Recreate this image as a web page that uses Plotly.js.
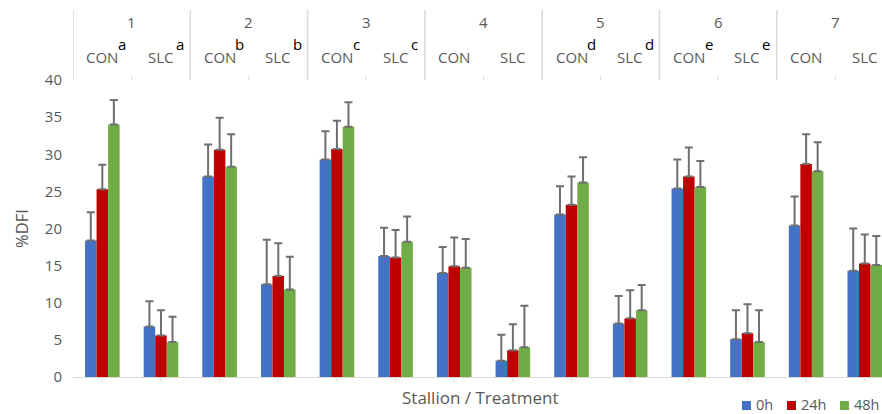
<!DOCTYPE html>
<html>
<head>
<meta charset="utf-8">
<script src="https://cdn.plot.ly/plotly-3.0.1.min.js"></script>
<style>html,body{margin:0;padding:0;background:#fff;}#chart{width:882px;height:414px;}</style>
</head>
<body>
<div id="chart"></div>
<script>
// Data
var stallions = ['1', '2', '3', '4', '5', '6', '7'];
var treatments = ['CON', 'SLC'];
var letters = ['a', 'a', 'b', 'b', 'c', 'c', '', '', 'd', 'd', 'e', 'e', '', ''];
var categories = ['1 CON', '1 SLC', '2 CON', '2 SLC', '3 CON', '3 SLC', '4 CON', '4 SLC', '5 CON', '5 SLC', '6 CON', '6 SLC', '7 CON', '7 SLC'];
var seriesNames = ['0h', '24h', '48h'];
var v0h  = [18.4, 6.8, 27.0, 12.5, 29.3, 16.3, 14.0, 2.2, 21.9, 7.2, 25.4, 5.1, 20.4, 14.3];
var e0h  = [3.8, 3.4, 4.3, 6.0, 3.8, 3.8, 3.5, 3.5, 3.8, 3.7, 3.9, 3.9, 3.9, 5.7];
var v24h = [25.3, 5.6, 30.6, 13.6, 30.7, 16.1, 14.9, 3.6, 23.2, 7.9, 27.0, 5.9, 28.7, 15.3];
var e24h = [3.3, 3.4, 4.3, 4.4, 3.8, 3.7, 3.9, 3.5, 3.8, 3.8, 3.9, 3.9, 4.0, 3.9];
var v48h = [34.0, 4.7, 28.3, 11.8, 33.7, 18.2, 14.7, 4.0, 26.2, 9.0, 25.6, 4.7, 27.7, 15.1];
var e48h = [3.3, 3.4, 4.4, 4.4, 3.3, 3.4, 3.9, 5.6, 3.4, 3.4, 3.5, 4.3, 3.9, 3.9];
var colors = ['#4472C4', '#C00000', '#70AD47'];

var vals = [v0h, v24h, v48h];
var errs = [e0h, e24h, e48h];
var zeros = categories.map(function(){return 0;});
var font = 'Open Sans, sans-serif';
var grey = '#595959';

var traces = seriesNames.map(function(n, k){
  return {
    type: 'bar', name: n, x: categories, y: vals[k],
    marker: {color: colors[k], line: {width: 0}},
    error_y: {type: 'data', symmetric: false, array: errs[k], arrayminus: zeros,
              color: '#6f6f6f', thickness: 2, width: 4}
  };
});

// pixel -> paper helpers (plot area x 73..882, y 80..377)
function py(p){ return (377 - p) / 297; }
function px(p){ return (p - 73) / 809; }

var annotations = [];
var shapes = [];
categories.forEach(function(c, i){
  annotations.push({xref: 'x', yref: 'paper', x: i, y: py(57), text: treatments[i % 2],
    showarrow: false, font: {family: font, size: 15, color: grey}, xanchor: 'center', yanchor: 'middle'});
  if (letters[i]) {
    annotations.push({xref: 'x', yref: 'paper', x: i, y: py(44), xshift: (i % 2 === 0 ? 20 : 19),
      text: letters[i], showarrow: false, font: {family: font, size: 15, color: '#000'},
      xanchor: 'center', yanchor: 'middle'});
  }
  shapes.push({type: 'line', xref: 'x', yref: 'paper', x0: i, x1: i, y0: 0, y1: py(382),
    line: {color: '#d9d9d9', width: 1}});
});
stallions.forEach(function(s, j){
  annotations.push({xref: 'x', yref: 'paper', x: 2 * j + 0.5, y: py(22), text: s,
    showarrow: false, font: {family: font, size: 15, color: grey}, xanchor: 'center', yanchor: 'middle'});
  shapes.push({type: 'line', xref: 'x', yref: 'paper', x0: 2 * j - 0.5, x1: 2 * j - 0.5, y0: py(80), y1: py(10),
    line: {color: '#d9d9d9', width: 1.5}});
  shapes.push({type: 'line', xref: 'x', yref: 'paper', x0: 2 * j + 0.5, x1: 2 * j + 0.5, y0: py(80), y1: py(76),
    line: {color: '#d9d9d9', width: 1}});
});
annotations.push({xref: 'paper', yref: 'paper', x: px(481), y: py(397), text: 'Stallion / Treatment',
  showarrow: false, font: {family: font, size: 17, color: grey}, xanchor: 'center', yanchor: 'middle'});

// legend (drawn as keys next to series names)
var legendX = [742, 787, 840];
seriesNames.forEach(function(n, k){
  shapes.push({type: 'rect', xref: 'paper', yref: 'paper', x0: px(legendX[k]), x1: px(legendX[k] + 9),
    y0: py(410), y1: py(401), fillcolor: colors[k], line: {width: 0}});
  annotations.push({xref: 'paper', yref: 'paper', x: px(legendX[k] + 13), y: py(404.5), text: n,
    showarrow: false, borderpad: 0, font: {family: font, size: 14.5, color: grey}, xanchor: 'left', yanchor: 'middle'});
});

var layout = {
  width: 882, height: 414,
  margin: {l: 73, r: 0, t: 80, b: 37, pad: 0, autoexpand: false},
  paper_bgcolor: '#fff', plot_bgcolor: '#fff',
  barmode: 'group', bargap: 0.41, bargroupgap: 0,
  showlegend: false,
  xaxis: {type: 'category', range: [-0.5, -0.5 + 809 / 58.65], showticklabels: false, ticks: '',
    showline: true, linecolor: '#d9d9d9', linewidth: 1, showgrid: false, zeroline: false, fixedrange: true},
  yaxis: {range: [0, 40], dtick: 5, tick0: 0, showgrid: false, zeroline: false, showline: false,
    ticks: '', ticklabelstandoff: 10, tickfont: {family: font, size: 15, color: grey},
    title: {text: '%DFI', font: {family: font, size: 16.5, color: grey}, standoff: 12}},
  annotations: annotations,
  shapes: shapes
};

Plotly.newPlot('chart', traces, layout, {displayModeBar: false, staticPlot: true});
</script>
</body>
</html>
